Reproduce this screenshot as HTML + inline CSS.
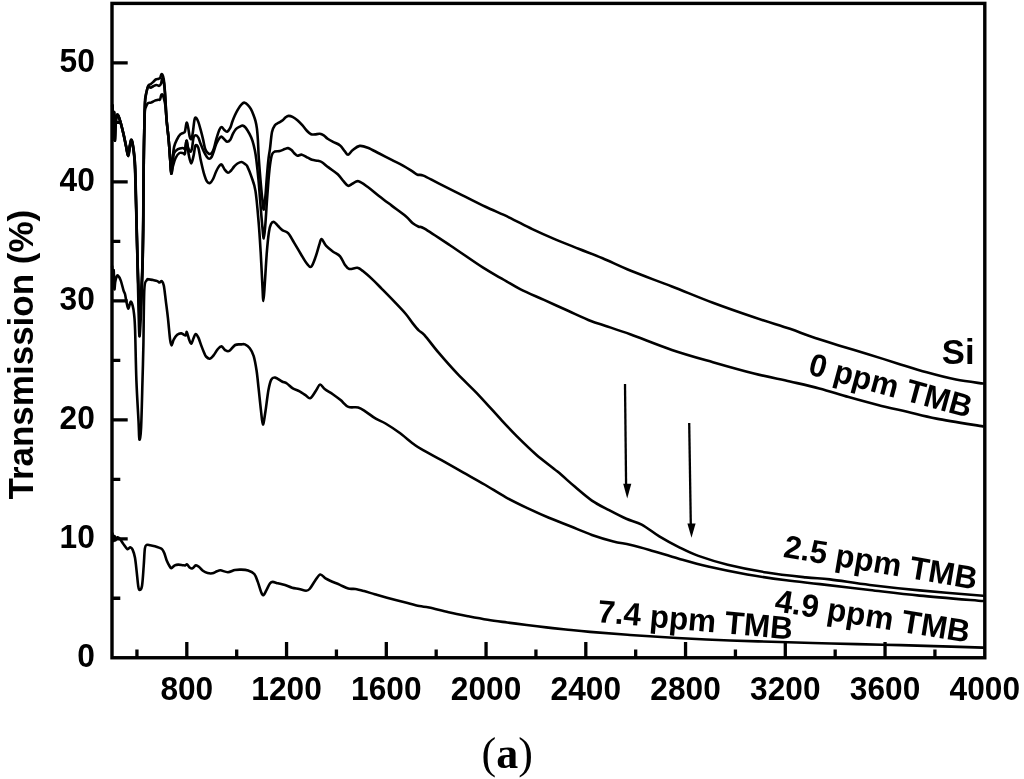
<!DOCTYPE html><html><head><meta charset="utf-8"><title>Transmission spectra</title><style>html,body{margin:0;padding:0;background:#fff;}svg{display:block;}text{font-family:"Liberation Sans",Arial,sans-serif;font-weight:bold;fill:#000;}</style></head><body>
<svg width="1024" height="779" viewBox="0 0 1024 779">
<rect x="0" y="0" width="1024" height="779" fill="#fff"/>
<g fill="none" stroke="#000" stroke-width="2.6" stroke-linejoin="round" stroke-linecap="round">
<path d="M112.2 105C112.37 108.83 112.92 126.83 113.2 128C113.48 129.17 113.67 110 113.9 112C114.13 114 114.33 138.33 114.6 140C114.87 141.67 115.18 126 115.5 122C115.82 118 116.12 117.2 116.5 116C116.88 114.8 117.17 113.85 117.8 114.8C118.43 115.75 119.37 118.5 120.3 121.7C121.23 124.9 122.45 129.9 123.4 134C124.35 138.1 125.23 142.7 126 146.3C126.77 149.9 127.4 155.6 128 155.6C128.6 155.6 129.08 148.95 129.6 146.3C130.12 143.65 130.6 140.03 131.1 139.7C131.6 139.37 132.08 141.48 132.6 144.3C133.12 147.12 133.77 151.48 134.2 156.6C134.63 161.72 134.83 164.43 135.2 175C135.57 185.57 136 205 136.4 220C136.8 235 137.23 253 137.6 265C137.97 277 138.27 285.33 138.6 292C138.93 298.67 139.27 304 139.6 305C139.93 306 140.23 302.17 140.6 298C140.97 293.83 141.45 287.17 141.8 280C142.15 272.83 142.47 265 142.7 255C142.93 245 143.07 232.5 143.2 220C143.33 207.5 143.37 193.33 143.5 180C143.63 166.67 143.8 151.67 144 140C144.2 128.33 144.52 116.82 144.7 110C144.88 103.18 144.83 101.97 145.1 99.1C145.37 96.23 145.78 95.02 146.3 92.8C146.82 90.58 147.48 87.23 148.2 85.8C148.92 84.37 149.75 84.85 150.6 84.2C151.45 83.55 152.45 82.68 153.3 81.9C154.15 81.12 154.78 80.03 155.7 79.5C156.62 78.97 158.03 79.07 158.8 78.75C159.57 78.43 159.85 78.38 160.3 77.6C160.75 76.82 161.03 74.3 161.5 74.1C161.97 73.9 162.63 74.85 163.1 76.4C163.57 77.95 163.92 79.62 164.3 83.4C164.68 87.18 165.02 93 165.4 99.1C165.78 105.2 166.07 113.35 166.6 120C167.13 126.65 168 132.33 168.6 139C169.2 145.67 169.75 154.23 170.2 160C170.65 165.77 170.92 173.6 171.3 173.6C171.68 173.6 172.03 164.45 172.5 160C172.97 155.55 173.32 150.38 174.1 146.9C174.88 143.42 176.17 141.18 177.2 139.1C178.23 137.02 179.27 135.45 180.3 134.4C181.33 133.35 182.62 133.32 183.4 132.8C184.18 132.28 184.47 132.98 185 131.3C185.53 129.62 186.08 123.37 186.6 122.7C187.12 122.03 187.58 124.97 188.1 127.3C188.62 129.63 189.17 134.73 189.7 136.7C190.23 138.67 190.78 139.75 191.3 139.1C191.82 138.45 192.28 135.93 192.8 132.8C193.32 129.67 193.88 122.83 194.4 120.3C194.92 117.77 195.25 117.33 195.9 117.6C196.55 117.87 197.52 119.88 198.3 121.9C199.08 123.92 199.82 126.83 200.6 129.7C201.38 132.57 202.22 135.85 203 139.1C203.78 142.35 204.37 146.78 205.3 149.2C206.23 151.62 207.55 152.95 208.6 153.6C209.65 154.25 210.72 153.97 211.6 153.1C212.48 152.23 213.12 150.73 213.9 148.4C214.68 146.07 215.38 142.22 216.3 139.1C217.22 135.98 218.5 131.72 219.4 129.7C220.3 127.68 220.92 127 221.7 127C222.48 127 223.2 128.92 224.1 129.7C225 130.48 226.08 132 227.1 131.7C228.12 131.4 229.33 129.57 230.2 127.9C231.07 126.23 231.53 123.77 232.3 121.7C233.07 119.63 233.95 117.38 234.8 115.5C235.65 113.62 236.53 111.93 237.4 110.4C238.27 108.87 239.15 107.45 240 106.3C240.85 105.15 241.73 104.1 242.5 103.5C243.27 102.9 243.73 102.48 244.6 102.7C245.47 102.92 246.67 103.77 247.7 104.8C248.73 105.83 249.87 107.28 250.8 108.9C251.73 110.52 252.53 112.53 253.3 114.5C254.07 116.47 254.8 118.38 255.4 120.7C256 123.02 256.48 125.18 256.9 128.4C257.32 131.62 257.58 135 257.9 140C258.22 145 258.37 151.73 258.8 158.4C259.23 165.07 259.93 173.4 260.5 180C261.07 186.6 261.65 193.07 262.2 198C262.75 202.93 263.25 210.1 263.8 209.6C264.35 209.1 264.97 200.77 265.5 195C266.03 189.23 266.48 181.17 267 175C267.52 168.83 268.1 162.4 268.6 158C269.1 153.6 269.43 152.93 270 148.6C270.57 144.27 271.18 135.9 272 132C272.82 128.1 273.77 126.75 274.9 125.2C276.03 123.65 277.5 123.52 278.8 122.7C280.1 121.88 281.55 121.2 282.7 120.3C283.85 119.4 284.72 118.03 285.7 117.3C286.68 116.57 287.47 115.97 288.6 115.9C289.73 115.83 291.03 116.17 292.5 116.9C293.97 117.63 295.77 118.92 297.4 120.3C299.03 121.68 300.68 123.42 302.3 125.2C303.92 126.98 305.63 129.5 307.1 131C308.57 132.5 309.78 133.63 311.1 134.2C312.42 134.77 313.55 134.47 315 134.4C316.45 134.33 318.34 133.63 319.8 133.8C321.26 133.97 322.43 134.57 323.75 135.4C325.07 136.23 326.14 137.72 327.7 138.8C329.26 139.88 331.03 140.8 333.1 141.9C335.17 143 338.17 143.85 340.1 145.4C342.03 146.95 343.37 149.65 344.7 151.2C346.03 152.75 346.75 154.9 348.1 154.7C349.45 154.5 350.87 151.47 352.8 150C354.73 148.53 357.2 146.28 359.7 145.9C362.2 145.52 364.53 146.43 367.8 147.7C371.07 148.97 375.32 151.47 379.3 153.5C383.28 155.53 387.68 157.85 391.7 159.9C395.72 161.95 399.88 163.85 403.4 165.8C406.92 167.75 410.45 170.12 412.8 171.6C415.15 173.08 415.73 174.03 417.5 174.7C419.27 175.37 419.88 174.15 423.4 175.6C426.92 177.05 432.17 180.15 438.6 183.4C445.03 186.65 454.18 191.2 462 195.1C469.82 199 477.68 203.1 485.5 206.8C493.32 210.5 501.1 213.58 508.9 217.3C516.7 221.02 524.48 225.38 532.3 229.1C540.12 232.82 547.98 236.28 555.8 239.6C563.62 242.92 571.4 245.88 579.2 249C587 252.12 594 254.67 602.6 258.3C611.2 261.93 619.25 266.1 630.8 270.8C642.35 275.5 658.22 281.17 671.9 286.5C685.58 291.83 699.22 297.67 712.9 302.8C726.58 307.93 741.15 312.97 754 317.3C766.85 321.63 780.75 325.68 790 328.8C799.25 331.92 801.37 333.23 809.5 336C817.63 338.77 829.03 342.37 838.8 345.4C848.57 348.43 858.33 351.2 868.1 354.2C877.87 357.2 887.63 360.38 897.4 363.4C907.17 366.42 916.93 369.6 926.7 372.3C936.47 375 946.62 377.73 956 379.6C965.38 381.47 978.5 382.85 983 383.5"/>
<path d="M112.35 105.3C112.52 109.13 113.07 127.13 113.35 128.3C113.63 129.47 113.82 110.3 114.05 112.3C114.28 114.3 114.48 138.63 114.75 140.3C115.02 141.97 115.33 126.3 115.65 122.3C115.97 118.3 116.27 117.5 116.65 116.3C117.03 115.1 117.32 114.15 117.95 115.1C118.58 116.05 119.52 118.8 120.45 122C121.38 125.2 122.6 130.2 123.55 134.3C124.5 138.4 125.38 143 126.15 146.6C126.92 150.2 127.55 155.9 128.15 155.9C128.75 155.9 129.23 149.25 129.75 146.6C130.27 143.95 130.75 140.33 131.25 140C131.75 139.67 132.23 141.78 132.75 144.6C133.27 147.42 133.92 151.78 134.35 156.9C134.78 162.02 134.91 161.45 135.35 175.3C135.79 189.15 136.47 220.55 137 240C137.53 259.45 138.07 279 138.5 292C138.93 305 139.25 315.33 139.6 318C139.95 320.67 140.23 313.5 140.6 308C140.97 302.5 141.43 293.83 141.8 285C142.17 276.17 142.55 266.67 142.8 255C143.05 243.33 143.17 228.33 143.3 215C143.43 201.67 143.4 191.67 143.6 175C143.8 158.33 144.22 127.5 144.5 115C144.78 102.5 144.97 103.83 145.3 100C145.63 96.17 146.02 94.23 146.5 92C146.98 89.77 147.52 87.32 148.2 86.6C148.88 85.88 149.75 87.77 150.6 87.7C151.45 87.63 152.33 86.65 153.3 86.2C154.27 85.75 155.42 85.07 156.4 85C157.38 84.93 158.42 86.07 159.2 85.8C159.98 85.53 160.65 84.45 161.1 83.4C161.55 82.35 161.62 80.4 161.9 79.5C162.18 78.6 162.52 77.75 162.8 78C163.08 78.25 163.32 79.33 163.6 81C163.88 82.67 164.2 84.98 164.5 88C164.8 91.02 165.05 93.77 165.4 99.1C165.75 104.43 166.07 113.35 166.6 120C167.13 126.65 168 132.33 168.6 139C169.2 145.67 169.75 154.23 170.2 160C170.65 165.77 170.88 173.1 171.3 173.6C171.72 174.1 172.23 166.42 172.7 163C173.17 159.58 173.22 155.4 174.1 153.1C174.98 150.8 176.57 150.05 178 149.2C179.43 148.35 181.53 148.13 182.7 148C183.87 147.87 184.35 149.63 185 148.4C185.65 147.17 186.08 140.72 186.6 140.6C187.12 140.48 187.45 145.87 188.1 147.7C188.75 149.53 189.85 151.48 190.5 151.6C191.15 151.72 191.48 150.75 192 148.4C192.52 146.05 192.95 139.7 193.6 137.5C194.25 135.3 195.12 135.2 195.9 135.2C196.68 135.2 197.52 136.07 198.3 137.5C199.08 138.93 199.68 141.42 200.6 143.75C201.52 146.08 202.75 149.29 203.8 151.5C204.85 153.71 206 155.78 206.9 157C207.8 158.22 208.42 158.8 209.2 158.8C209.98 158.8 210.82 158.3 211.6 157C212.38 155.7 213.12 153.21 213.9 151C214.68 148.79 215.38 145.87 216.3 143.75C217.22 141.63 218.5 139.48 219.4 138.3C220.3 137.12 220.8 136.45 221.7 136.7C222.6 136.95 223.88 138.95 224.8 139.8C225.72 140.65 226.28 141.8 227.2 141.8C228.12 141.8 229.35 141.12 230.3 139.8C231.25 138.48 231.97 135.68 232.9 133.9C233.83 132.12 234.75 130.32 235.9 129.1C237.05 127.88 238.67 127.18 239.8 126.6C240.93 126.02 241.73 125.43 242.7 125.6C243.67 125.77 244.47 126.22 245.6 127.6C246.73 128.98 248.35 131.7 249.5 133.9C250.65 136.1 251.6 138.03 252.5 140.8C253.4 143.57 254.25 147.25 254.9 150.5C255.55 153.75 255.8 155.38 256.4 160.3C257 165.22 257.82 172.55 258.5 180C259.18 187.45 259.87 197.33 260.5 205C261.13 212.67 261.75 220.43 262.3 226C262.85 231.57 263.3 238.57 263.8 238.4C264.3 238.23 264.77 231.4 265.3 225C265.83 218.6 266.47 207.5 267 200C267.53 192.5 268 185.83 268.5 180C269 174.17 269.42 169.25 270 165C270.58 160.75 271.18 156.75 272 154.5C272.82 152.25 273.6 152.08 274.9 151.5C276.2 150.92 278.17 151.4 279.8 151C281.43 150.6 283.32 149.58 284.7 149.1C286.08 148.62 286.97 147.93 288.1 148.1C289.23 148.27 290.43 149.2 291.5 150.1C292.57 151 293.52 152.55 294.5 153.5C295.48 154.45 296.17 155.6 297.4 155.8C298.63 156 300.18 154.38 301.9 154.7C303.62 155.02 306.02 156.85 307.7 157.7C309.38 158.55 310.3 159.28 312 159.8C313.7 160.32 316.3 160.43 317.9 160.8C319.5 161.17 319.83 160.9 321.6 162C323.37 163.1 325.81 165.35 328.5 167.4C331.19 169.45 335.25 172 337.75 174.3C340.25 176.6 341.77 179.28 343.5 181.2C345.23 183.12 346.55 185.42 348.1 185.8C349.65 186.18 351.07 184.27 352.8 183.5C354.53 182.73 356 180.62 358.5 181.2C361 181.78 364.33 184.5 367.8 187C371.27 189.5 375.32 193.1 379.3 196.2C383.28 199.3 387.28 202.27 391.7 205.6C396.12 208.93 402.28 213.27 405.8 216.2C409.32 219.13 410.65 221.45 412.8 223.2C414.95 224.95 416.75 225.8 418.7 226.7C420.65 227.6 419.23 225.47 424.5 228.6C429.77 231.73 440.53 238.98 450.3 245.5C460.07 252.02 474.12 261.95 483.1 267.7C492.08 273.45 497.95 276.38 504.2 280C510.45 283.62 513.97 286.08 520.6 289.4C527.23 292.72 536.18 296.38 544 299.9C551.82 303.42 559.68 306.98 567.5 310.5C575.32 314.02 584.65 318.47 590.9 321C597.15 323.53 598.35 323.45 605 325.7C611.65 327.95 619.65 330.47 630.8 334.5C641.95 338.53 658.22 345.28 671.9 349.9C685.58 354.52 699.22 358.27 712.9 362.2C726.58 366.13 741.15 370.28 754 373.5C766.85 376.72 779.12 379.02 790 381.5C800.88 383.98 809.53 385.8 819.3 388.4C829.07 391 838.83 394.33 848.6 397.1C858.37 399.87 868.13 402.55 877.9 405C887.67 407.45 897.43 409.53 907.2 411.8C916.97 414.07 923.87 416.17 936.5 418.6C949.13 421.03 975.25 425.1 983 426.4"/>
<path d="M112.5 105.6C112.67 109.43 113.22 127.43 113.5 128.6C113.78 129.77 113.97 110.6 114.2 112.6C114.43 114.6 114.63 138.93 114.9 140.6C115.17 142.27 115.48 126.6 115.8 122.6C116.12 118.6 116.42 117.8 116.8 116.6C117.18 115.4 117.47 114.45 118.1 115.4C118.73 116.35 119.67 119.1 120.6 122.3C121.53 125.5 122.75 130.5 123.7 134.6C124.65 138.7 125.53 143.3 126.3 146.9C127.07 150.5 127.7 156.2 128.3 156.2C128.9 156.2 129.38 149.55 129.9 146.9C130.42 144.25 130.9 140.63 131.4 140.3C131.9 139.97 132.38 142.08 132.9 144.9C133.42 147.72 134.07 152.08 134.5 157.2C134.93 162.32 135.05 160.13 135.5 175.6C135.95 191.07 136.68 227.27 137.2 250C137.72 272.73 138.23 297.67 138.6 312C138.97 326.33 139.1 333.83 139.4 336C139.7 338.17 140.03 331.33 140.4 325C140.77 318.67 141.23 308 141.6 298C141.97 288 142.33 276.33 142.6 265C142.87 253.67 143.05 242.5 143.2 230C143.35 217.5 143.38 203.33 143.5 190C143.62 176.67 143.73 160.83 143.9 150C144.07 139.17 144.33 131.53 144.5 125C144.67 118.47 144.6 113.95 144.9 110.8C145.2 107.65 145.75 107.4 146.3 106.1C146.85 104.8 147.42 103.58 148.2 103C148.98 102.42 149.88 103 151 102.6C152.12 102.2 153.73 101.07 154.9 100.6C156.07 100.13 157.15 99.98 158 99.8C158.85 99.62 159.48 100.22 160 99.5C160.52 98.78 160.72 96.35 161.1 95.5C161.48 94.65 161.9 94.15 162.3 94.4C162.7 94.65 163.13 95.9 163.5 97C163.87 98.1 164.18 99.5 164.5 101C164.82 102.5 165.05 102.83 165.4 106C165.75 109.17 166.07 114.5 166.6 120C167.13 125.5 168 132.33 168.6 139C169.2 145.67 169.75 154.23 170.2 160C170.65 165.77 170.83 172.6 171.3 173.6C171.77 174.6 172.28 168.6 173 166C173.72 163.4 174.52 160.17 175.6 158C176.68 155.83 178.2 153.78 179.5 153C180.8 152.22 182.48 153.22 183.4 153.3C184.32 153.38 184.47 155.58 185 153.5C185.53 151.42 185.95 140.45 186.6 140.8C187.25 141.15 188.12 151.83 188.9 155.6C189.68 159.37 190.47 163.4 191.25 163.4C192.03 163.4 192.89 158.58 193.6 155.6C194.31 152.62 194.72 146.8 195.5 145.5C196.28 144.2 197.45 145.47 198.3 147.8C199.15 150.13 199.69 155.33 200.6 159.5C201.51 163.67 202.7 169.15 203.75 172.8C204.8 176.45 205.86 179.7 206.9 181.4C207.94 183.1 208.97 183.4 210 183C211.03 182.6 212.06 180.96 213.1 179C214.14 177.04 215.2 173.45 216.25 171.25C217.3 169.05 218.49 166.91 219.4 165.8C220.31 164.69 220.8 163.95 221.7 164.6C222.6 165.25 223.75 168.33 224.8 169.7C225.85 171.07 226.95 172.67 228 172.8C229.05 172.93 230.07 171.55 231.1 170.5C232.13 169.45 233.13 167.67 234.2 166.5C235.27 165.33 236.25 164.25 237.5 163.5C238.75 162.75 240.35 161.83 241.7 162C243.05 162.17 244.67 163.77 245.6 164.5C246.53 165.23 246.33 164.37 247.3 166.4C248.27 168.43 250.03 172.58 251.4 176.7C252.77 180.82 254.3 183.57 255.5 191.1C256.7 198.63 257.73 211.63 258.6 221.9C259.47 232.17 260.08 242.42 260.7 252.7C261.32 262.98 261.85 275.55 262.3 283.6C262.75 291.65 262.98 301 263.4 301C263.82 301 264.23 291.65 264.8 283.6C265.37 275.55 266.12 261.27 266.8 252.7C267.48 244.13 268.2 236.98 268.9 232.2C269.6 227.42 270.15 225.72 271 224C271.85 222.28 272.82 221.57 274 221.9C275.18 222.23 276.72 224.63 278.1 226C279.48 227.37 280.63 228.9 282.3 230.1C283.97 231.3 286.17 231.15 288.1 233.2C290.03 235.25 291.78 238.93 293.9 242.4C296.02 245.87 298.68 250.53 300.8 254C302.92 257.47 304.87 261.08 306.6 263.2C308.33 265.32 309.67 267.85 311.2 266.7C312.73 265.55 314.45 259.97 315.8 256.3C317.15 252.63 318.33 247.58 319.3 244.7C320.27 241.82 320.45 238.8 321.6 239C322.75 239.2 324.28 243.78 326.2 245.9C328.12 248.02 330.78 249.97 333.1 251.7C335.42 253.43 338.17 254.18 340.1 256.3C342.03 258.42 343.17 262.28 344.7 264.4C346.23 266.52 347.18 268.43 349.3 269C351.42 269.57 355.08 267.42 357.4 267.8C359.72 268.18 360.7 269.37 363.2 271.3C365.7 273.23 369.33 276.52 372.4 279.4C375.47 282.28 377.98 284.93 381.6 288.6C385.22 292.27 390.07 297.17 394.1 301.4C398.13 305.63 402.68 310.33 405.8 314C408.92 317.67 410.65 320.67 412.8 323.4C414.95 326.13 416.75 328.45 418.7 330.4C420.65 332.35 421.18 331.38 424.5 335.1C427.82 338.82 433.13 346.27 438.6 352.7C444.07 359.13 450.67 366.68 457.3 373.7C463.93 380.72 470.97 386.98 478.4 394.8C485.83 402.62 495.52 413.72 501.9 420.6C508.28 427.48 511.02 430.47 516.7 436.1C522.38 441.73 529.2 448.48 536 454.4C542.8 460.32 551.05 466.23 557.5 471.6C563.95 476.97 568.97 481.77 574.7 486.6C580.43 491.43 586.17 496.67 591.9 500.6C597.63 504.53 603.37 507.17 609.1 510.2C614.83 513.23 620.87 516.4 626.3 518.8C631.73 521.2 636.2 521.67 641.7 524.6C647.2 527.53 653.12 532.65 659.3 536.4C665.48 540.15 672.28 543.85 678.8 547.1C685.32 550.35 690.25 552.97 698.4 555.9C706.55 558.83 716.32 561.93 727.7 564.7C739.08 567.47 753.68 570.38 766.7 572.5C779.72 574.62 795.25 576.25 805.8 577.4C816.35 578.55 819.33 578.13 830 579.4C840.67 580.67 854.87 583.17 869.8 585C884.73 586.83 900.73 588.6 919.6 590.4C938.47 592.2 972.43 594.9 983 595.8"/>
<path d="M112.2 266.3C112.33 269.42 112.75 284.38 113 285C113.25 285.62 113.47 269.33 113.7 270C113.93 270.67 114.15 287 114.4 289C114.65 291 114.85 284 115.2 282C115.55 280 116.05 278.08 116.5 277C116.95 275.92 117.2 274.93 117.9 275.5C118.6 276.07 119.77 277.93 120.7 280.4C121.63 282.87 122.78 288.03 123.5 290.3C124.22 292.57 124.52 292.12 125 294C125.48 295.88 125.85 299.13 126.4 301.6C126.95 304.07 127.6 308.78 128.3 308.8C129 308.82 129.87 302.2 130.6 301.7C131.33 301.2 132.12 303.7 132.7 305.8C133.28 307.9 133.7 310.27 134.1 314.3C134.5 318.33 134.72 318.98 135.1 330C135.48 341.02 135.83 365.28 136.4 380.4C136.97 395.52 138 410.83 138.5 420.7C139 430.57 138.97 438.48 139.4 439.6C139.83 440.72 140.58 437.27 141.1 427.4C141.62 417.53 142.12 394.13 142.5 380.4C142.88 366.67 143.1 360.07 143.4 345C143.7 329.93 143.75 300.8 144.3 290C144.85 279.2 145.9 281.97 146.7 280.2C147.5 278.43 148.02 279.42 149.1 279.4C150.18 279.38 151.82 279.82 153.2 280.1C154.58 280.38 156.33 280.7 157.4 281.1C158.47 281.5 158.88 282.5 159.6 282.5C160.32 282.5 161 280.62 161.7 281.1C162.4 281.58 163.1 281.98 163.8 285.4C164.5 288.82 165.2 296.07 165.9 301.6C166.6 307.13 167.3 312.25 168 318.6C168.7 324.95 169.5 335.23 170.1 339.7C170.7 344.17 171 345.4 171.6 345.4C172.2 345.4 172.77 341.47 173.7 339.7C174.63 337.93 175.92 335.85 177.2 334.8C178.48 333.75 179.98 333.28 181.4 333.4C182.82 333.52 184.8 335.73 185.7 335.5C186.6 335.27 186.22 331.3 186.8 332C187.38 332.7 188.45 337.75 189.2 339.7C189.95 341.65 190.58 343.93 191.3 343.7C192.02 343.47 192.78 339.9 193.5 338.3C194.22 336.7 194.78 334.22 195.6 334.1C196.42 333.98 197.47 335.72 198.4 337.6C199.33 339.48 200.27 342.92 201.2 345.4C202.13 347.88 203.2 350.65 204 352.5C204.8 354.35 205.03 355.47 206 356.5C206.97 357.53 208.52 358.92 209.8 358.7C211.08 358.48 212.4 356.77 213.7 355.2C215 353.63 216.3 350.77 217.6 349.3C218.9 347.83 220.2 346.23 221.5 346.4C222.8 346.57 224.1 349.55 225.4 350.3C226.7 351.05 227.67 351.78 229.3 350.9C230.93 350.02 233.25 346.08 235.2 345C237.15 343.92 239.38 344.5 241 344.4C242.62 344.3 243.43 343.75 244.9 344.4C246.37 345.05 248.33 346.35 249.8 348.3C251.27 350.25 252.57 352.35 253.7 356.1C254.83 359.85 255.78 365.42 256.6 370.8C257.42 376.18 257.88 381.9 258.6 388.4C259.32 394.9 260.18 403.78 260.9 409.8C261.62 415.82 262.15 424.17 262.9 424.5C263.65 424.83 264.48 417.5 265.4 411.8C266.32 406.1 267.42 395.67 268.4 390.3C269.38 384.93 270.17 381.72 271.3 379.6C272.43 377.48 273.42 377.28 275.2 377.6C276.98 377.92 280.05 380.52 282 381.5C283.95 382.48 285.1 382.35 286.9 383.5C288.7 384.65 290.68 387.1 292.8 388.4C294.92 389.7 297.48 390.17 299.6 391.3C301.72 392.43 303.7 394.07 305.5 395.2C307.3 396.33 308.62 398.92 310.4 398.1C312.18 397.28 314.58 392.57 316.2 390.3C317.82 388.03 318.63 384.67 320.1 384.5C321.57 384.33 322.88 387.68 325 389.3C327.12 390.92 330.2 392.4 332.8 394.2C335.4 396 338 397.98 340.6 400.1C343.2 402.22 345.47 405.67 348.4 406.9C351.33 408.13 355.27 406.68 358.2 407.5C361.13 408.32 363.07 409.93 366 411.8C368.93 413.67 372.55 416.75 375.8 418.7C379.05 420.65 381.68 421.23 385.5 423.5C389.32 425.77 393.8 428.68 398.75 432.3C403.7 435.92 410.91 442.12 415.2 445.2C419.49 448.28 420.12 448.3 424.5 450.8C428.88 453.3 435.08 456.6 441.5 460.2C447.92 463.8 455.83 468.35 463 472.4C470.17 476.45 477.35 480.35 484.5 484.5C491.65 488.65 498.75 493.37 505.9 497.3C513.05 501.23 520.23 504.68 527.4 508.1C534.57 511.52 541.73 514.77 548.9 517.8C556.07 520.83 563.23 523.45 570.4 526.3C577.57 529.15 584.73 532.38 591.9 534.9C599.07 537.42 607.05 539.75 613.4 541.4C619.75 543.05 623.98 543.37 630 544.8C636.02 546.23 641.37 547.67 649.5 550C657.63 552.33 669.03 556.03 678.8 558.8C688.57 561.57 696.7 563.98 708.1 566.6C719.5 569.22 734.18 572.22 747.2 574.5C760.23 576.78 774.12 578.7 786.25 580.3C798.38 581.9 806.08 582.48 820 584.1C833.92 585.72 853.2 588.08 869.8 590C886.4 591.92 900.73 593.77 919.6 595.6C938.47 597.43 972.43 600.1 983 601"/>
<path d="M112.5 533.5C112.67 534.75 113.17 540.58 113.5 541C113.83 541.42 114.2 536.08 114.5 536C114.8 535.92 114.82 540.28 115.3 540.5C115.78 540.72 116.67 537.63 117.4 537.3C118.13 536.97 118.73 537.42 119.7 538.5C120.67 539.58 121.93 542 123.2 543.75C124.47 545.5 126.12 548.41 127.3 549C128.48 549.59 129.42 547.2 130.3 547.3C131.18 547.4 131.82 547.85 132.6 549.6C133.38 551.35 134.32 554.08 135 557.8C135.68 561.52 136.17 567.22 136.7 571.9C137.23 576.58 137.75 582.88 138.2 585.9C138.65 588.92 138.77 590 139.4 590C140.03 590 141.28 589.9 142 585.9C142.72 581.9 143.22 572.25 143.7 566C144.18 559.75 144.4 551.92 144.9 548.4C145.4 544.88 145.82 545.43 146.7 544.9C147.58 544.37 148.83 544.97 150.2 545.2C151.57 545.43 153.33 545.85 154.9 546.3C156.47 546.75 158.43 547.45 159.6 547.9C160.77 548.35 161.12 548.13 161.9 549C162.68 549.87 163.47 551.23 164.25 553.1C165.03 554.97 165.72 558.05 166.6 560.2C167.47 562.35 168.72 564.68 169.5 566C170.28 567.32 170.42 568.2 171.3 568.1C172.18 568 173.63 565.98 174.8 565.4C175.97 564.82 176.93 564.63 178.3 564.6C179.67 564.57 181.83 565.07 183 565.2C184.17 565.33 184.62 565.52 185.3 565.4C185.98 565.28 186.32 564.1 187.1 564.5C187.88 564.9 189.12 567.15 190 567.8C190.88 568.45 191.42 568.8 192.4 568.4C193.38 568 194.73 565.6 195.9 565.4C197.07 565.2 198.23 566.32 199.4 567.2C200.57 568.08 201.53 569.73 202.9 570.7C204.27 571.67 206.03 572.57 207.6 573C209.17 573.43 210.73 573.58 212.3 573.3C213.87 573.02 215.63 571.8 217 571.3C218.37 570.8 218.68 570.15 220.5 570.3C222.32 570.45 225.5 572.25 227.9 572.2C230.3 572.15 232.7 570.43 234.9 570C237.1 569.57 238.9 569.52 241.1 569.6C243.3 569.68 245.9 569.77 248.1 570.5C250.3 571.23 252.68 572.1 254.3 574C255.92 575.9 256.63 578.82 257.8 581.9C258.97 584.98 260.33 590.3 261.3 592.5C262.27 594.7 262.72 595.55 263.6 595.1C264.48 594.65 265.52 591.77 266.6 589.8C267.68 587.83 269.08 584.62 270.1 583.3C271.12 581.98 271.38 581.9 272.7 581.9C274.02 581.9 275.95 582.77 278 583.3C280.05 583.83 282.65 584.37 285 585.1C287.35 585.83 289.75 587.05 292.1 587.7C294.45 588.35 296.77 588.5 299.1 589C301.43 589.5 304.35 590.7 306.1 590.7C307.85 590.7 308.13 590.62 309.6 589C311.07 587.38 313.13 583.42 314.9 581C316.67 578.58 318.43 574.93 320.2 574.5C321.97 574.07 323.75 577.32 325.5 578.4C327.25 579.48 328.37 579.97 330.7 581C333.03 582.03 336.57 583.33 339.5 584.6C342.43 585.87 345.67 587.87 348.3 588.6C350.93 589.33 352.67 588.58 355.3 589C357.93 589.42 360.87 590.23 364.1 591.1C367.33 591.97 370.88 593.1 374.7 594.2C378.52 595.3 381.85 596.3 387 597.7C392.15 599.1 400.22 601.2 405.6 602.6C410.98 604 415.38 605.28 419.3 606.1C423.22 606.92 424.22 606.47 429.1 607.5C433.98 608.53 442.1 610.84 448.6 612.3C455.1 613.76 461.58 615 468.1 616.25C474.62 617.5 481.18 618.76 487.7 619.8C494.22 620.84 500.7 621.63 507.2 622.5C513.7 623.37 520.19 624.18 526.7 625C533.21 625.82 539.73 626.65 546.25 627.4C552.77 628.15 558.51 628.75 565.8 629.5C573.09 630.25 579.3 630.98 590 631.9C600.7 632.82 615.47 633.98 630 635C644.53 636.02 660.53 637.08 677.2 638C693.87 638.92 712.87 639.83 730 640.5C747.13 641.17 763.12 641.5 780 642C796.88 642.5 814.22 643.05 831.3 643.5C848.38 643.95 865.42 644.27 882.5 644.7C899.58 645.13 917.05 645.62 933.8 646.1C950.55 646.58 974.8 647.35 983 647.6"/>
</g>
<path d="M136.94 657.75V649.45M186.81 657.75V642.05M236.69 657.75V649.45M286.56 657.75V642.05M336.43 657.75V649.45M386.31 657.75V642.05M436.18 657.75V649.45M486.06 657.75V642.05M535.93 657.75V649.45M585.81 657.75V642.05M635.68 657.75V649.45M685.55 657.75V642.05M735.43 657.75V649.45M785.3 657.75V642.05M835.18 657.75V649.45M885.05 657.75V642.05M934.93 657.75V649.45M112 598.26H120.3M112 538.78H127.7M112 479.29H120.3M112 419.8H127.7M112 360.32H120.3M112 300.83H127.7M112 241.35H120.3M112 181.86H127.7M112 122.37H120.3M112 62.89H127.7" stroke="#000" stroke-width="3.3" fill="none"/>
<rect x="112" y="3.4" width="872.8" height="654.35" fill="none" stroke="#000" stroke-width="3.4"/>
<text transform="translate(186.81 699.6) scale(0.99 1.046)" font-size="32" text-anchor="middle">800</text>
<text transform="translate(286.56 699.6) scale(0.99 1.046)" font-size="32" text-anchor="middle">1200</text>
<text transform="translate(386.31 699.6) scale(0.99 1.046)" font-size="32" text-anchor="middle">1600</text>
<text transform="translate(486.06 699.6) scale(0.99 1.046)" font-size="32" text-anchor="middle">2000</text>
<text transform="translate(585.81 699.6) scale(0.99 1.046)" font-size="32" text-anchor="middle">2400</text>
<text transform="translate(685.55 699.6) scale(0.99 1.046)" font-size="32" text-anchor="middle">2800</text>
<text transform="translate(785.3 699.6) scale(0.99 1.046)" font-size="32" text-anchor="middle">3200</text>
<text transform="translate(885.05 699.6) scale(0.99 1.046)" font-size="32" text-anchor="middle">3600</text>
<text transform="translate(984.8 699.6) scale(0.99 1.046)" font-size="32" text-anchor="middle">4000</text>
<text transform="translate(94.8 666.81) scale(0.99 1.057)" font-size="32" text-anchor="end">0</text>
<text transform="translate(94.8 547.83) scale(0.99 1.057)" font-size="32" text-anchor="end">10</text>
<text transform="translate(94.8 428.86) scale(0.99 1.057)" font-size="32" text-anchor="end">20</text>
<text transform="translate(94.8 309.89) scale(0.99 1.057)" font-size="32" text-anchor="end">30</text>
<text transform="translate(94.8 190.92) scale(0.99 1.057)" font-size="32" text-anchor="end">40</text>
<text transform="translate(94.8 71.94) scale(0.99 1.057)" font-size="32" text-anchor="end">50</text>
<text transform="translate(33.1 354.65) rotate(-90) scale(1.0 1)" font-size="35" text-anchor="middle">Transmission (%)</text>
<text transform="translate(974.6 364) scale(1 1.035)" font-size="34.7" text-anchor="end">Si</text>
<text transform="translate(807 374.0) rotate(15.2) scale(0.972 1)" font-size="32">0 ppm TMB</text>
<text transform="translate(782.4 556.8) rotate(9.6) scale(0.983 1)" font-size="32">2.5 ppm TMB</text>
<text transform="translate(773.7 611) rotate(9.3) scale(0.989 1)" font-size="32">4.9 ppm TMB</text>
<text transform="translate(596.7 622) rotate(5.1) scale(0.984 1)" font-size="32">7.4 ppm TMB</text>
<g stroke="#000" stroke-width="2.3" fill="#000"><path d="M625 383.9L626.1 486" fill="none"/><path d="M623.2 483.8H631.3L627.2 498.6Z" stroke="none"/>
<path d="M689.2 423L690.8 525" fill="none"/><path d="M687.4 523.4H695.6L691.5 537.8Z" stroke="none"/></g>
<text x="507.2" y="768.4" font-size="44" text-anchor="middle" style="font-family:'Liberation Serif','Times New Roman',serif;font-weight:normal">(<tspan font-weight="bold">a</tspan>)</text>
</svg></body></html>
